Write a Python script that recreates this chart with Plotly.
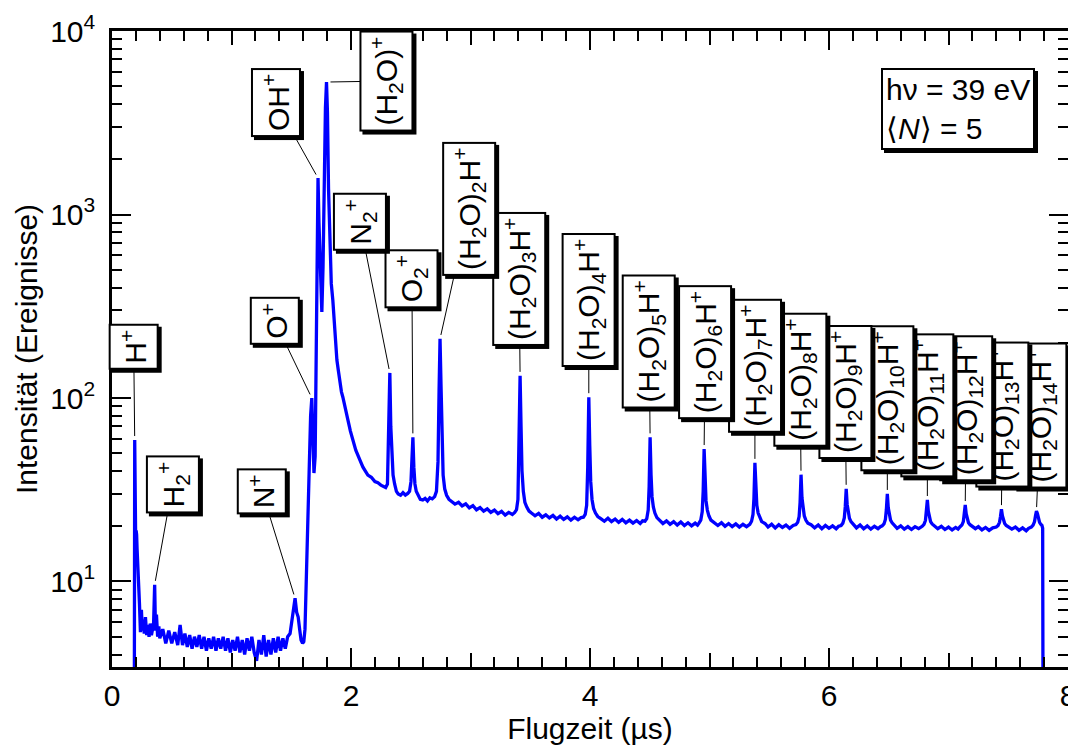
import math
import plotly.graph_objects as go

# ---------------- data (time of flight in µs, counts) ----------------
low_mass = [
    (0.170, 1), (0.186, 1), (0.190, 59), (0.194, 22), (0.198, 17), (0.202, 19), (0.206, 18),
    (0.210, 15), (0.214, 13.4), (0.218, 11), (0.224, 10.6), (0.230, 7.5), (0.238, 5.3),
    (0.246, 7.0), (0.254, 5.4), (0.262, 6.2), (0.270, 5.2), (0.280, 6.4), (0.290, 5.1),
    (0.300, 5.8), (0.310, 5.0), (0.320, 5.9), (0.330, 5.1), (0.340, 5.7), (0.348, 5.9),
    (0.357, 9.6), (0.364, 5.4), (0.372, 6.6), (0.382, 5.0), (0.392, 5.7), (0.400, 4.9),
    (0.425, 5.5), (0.450, 4.6), (0.475, 5.4), (0.500, 4.6), (0.525, 5.3), (0.550, 4.5),
    (0.570, 5.8), (0.590, 4.5), (0.610, 5.2), (0.630, 4.4), (0.650, 5.1), (0.670, 4.3),
    (0.690, 5.0), (0.710, 4.4), (0.730, 5.1), (0.750, 4.3), (0.770, 5.0), (0.790, 4.2),
    (0.810, 4.9), (0.830, 4.3), (0.850, 5.0), (0.870, 4.2), (0.890, 4.9), (0.910, 4.3),
    (0.930, 5.0), (0.950, 4.2), (0.970, 4.9), (0.990, 4.1), (1.010, 4.8), (1.030, 4.2),
    (1.050, 5.0), (1.070, 4.1), (1.090, 4.8), (1.110, 4.0), (1.130, 4.9), (1.150, 4.2),
    (1.170, 5.0), (1.190, 4.1), (1.210, 3.7), (1.230, 4.8), (1.250, 4.0), (1.270, 5.1),
    (1.290, 3.9), (1.310, 4.8), (1.330, 4.0), (1.350, 4.9), (1.370, 4.1), (1.390, 5.0),
    (1.410, 4.2), (1.430, 4.9), (1.450, 4.3), (1.470, 5.0), (1.490, 5.2), (1.505, 6.0),
    (1.520, 7.2), (1.532, 8.1), (1.545, 6.8), (1.558, 6.4), (1.570, 5.5), (1.582, 4.8),
    (1.595, 4.6), (1.605, 4.7),
]

monomer_region = [
    (1.615, 5.5), (1.628, 12), (1.640, 25), (1.652, 48), (1.662, 80), (1.672, 100),
    (1.680, 60), (1.690, 39), (1.700, 48), (1.710, 300), (1.718, 1000), (1.724, 1580),
    (1.732, 900), (1.745, 420), (1.756, 294), (1.766, 520), (1.776, 1600), (1.786, 3800),
    (1.795, 5270), (1.803, 3600), (1.812, 1380), (1.822, 700), (1.835, 420), (1.848, 340),
    (1.865, 220), (1.882, 161), (1.895, 140), (1.907, 122), (1.920, 108), (1.932, 101),
    (1.950, 88), (1.974, 76), (1.995, 66), (2.015, 59), (2.040, 52), (2.074, 46),
    (2.100, 42), (2.141, 38), (2.170, 37), (2.200, 35), (2.225, 34.5), (2.250, 33.5),
    (2.270, 33), (2.290, 32.5), (2.305, 34), (2.315, 60), (2.325, 137), (2.333, 70),
    (2.342, 45), (2.352, 38), (2.365, 34), (2.380, 31), (2.395, 30), (2.415, 29.5),
    (2.435, 30.5), (2.455, 29.6), (2.475, 30.2), (2.490, 31), (2.502, 35), (2.510, 45),
    (2.518, 61), (2.526, 42), (2.535, 34), (2.546, 31), (2.560, 29.5), (2.580, 28),
    (2.600, 27.8), (2.620, 28.4), (2.640, 27.5), (2.660, 28.6), (2.680, 28.2), (2.700, 29),
    (2.715, 31), (2.728, 45), (2.737, 110), (2.745, 210), (2.753, 120), (2.761, 55),
    (2.771, 38), (2.784, 32), (2.800, 29.5), (2.820, 28),
]

cluster_region = [
    (2.845, 27.2), (2.870, 26.4), (2.900, 27.0), (2.930, 25.8), (2.960, 26.5), (2.990, 25.2),
    (3.020, 25.9), (3.050, 24.6), (3.080, 25.3), (3.110, 24.2), (3.140, 24.9), (3.170, 23.8),
    (3.200, 24.5), (3.230, 23.4), (3.260, 24.1), (3.290, 23.0), (3.320, 23.8), (3.350, 23.2),
    (3.370, 23.8), (3.385, 24.6), (3.397, 28), (3.406, 50), (3.415, 132), (3.423, 70),
    (3.431, 40), (3.442, 31), (3.455, 27), (3.470, 25.5), (3.490, 24.2),
    (3.510, 23.6), (3.540, 22.8), (3.570, 23.5), (3.600, 22.4), (3.630, 23.1), (3.660, 22.2),
    (3.690, 22.9), (3.720, 21.9), (3.750, 22.7), (3.780, 21.8), (3.810, 22.5), (3.840, 21.6),
    (3.870, 22.4), (3.900, 21.7), (3.925, 22.3),
    (3.945, 22.4), (3.960, 23.2), (3.972, 26), (3.981, 42), (3.990, 101), (3.998, 55),
    (4.006, 35), (4.017, 28), (4.030, 25), (4.046, 23.6), (4.065, 22.6),
    (4.090, 22.0), (4.120, 21.3), (4.150, 22.1), (4.180, 21.2), (4.210, 21.9), (4.240, 21.0),
    (4.270, 21.8), (4.300, 20.9), (4.330, 21.6), (4.360, 20.8), (4.390, 21.5), (4.420, 20.7),
    (4.440, 21.4),
    (4.460, 21.3), (4.475, 22), (4.487, 24.5), (4.495, 33), (4.503, 61), (4.511, 38),
    (4.519, 29), (4.530, 25.5), (4.543, 23.6), (4.560, 22.3),
    (4.585, 21.6), (4.610, 20.7), (4.640, 21.4), (4.670, 20.5), (4.700, 21.2), (4.730, 20.3),
    (4.760, 21.1), (4.790, 20.2), (4.820, 20.9), (4.850, 20.1), (4.880, 20.8), (4.900, 20.3),
    (4.912, 20.8), (4.927, 21.6), (4.939, 24), (4.947, 31), (4.955, 52.7), (4.963, 35),
    (4.971, 27.5), (4.982, 24.5), (4.995, 22.8), (5.012, 21.6),
    (5.040, 21.0), (5.070, 20.2), (5.100, 20.9), (5.130, 20.0), (5.160, 20.7), (5.190, 19.9),
    (5.220, 20.6), (5.250, 19.8), (5.280, 20.5), (5.310, 19.9),
    (5.337, 20.5), (5.352, 21.3), (5.364, 23.2), (5.372, 28.5), (5.380, 44.3), (5.388, 31),
    (5.396, 26), (5.407, 23.6), (5.420, 22.2), (5.437, 21.2),
    (5.465, 20.7), (5.490, 19.8), (5.520, 20.5), (5.550, 19.6), (5.580, 20.4), (5.610, 19.7),
    (5.640, 20.3), (5.670, 19.5), (5.700, 20.2),
    (5.723, 20.4), (5.738, 21.0), (5.750, 22.6), (5.758, 27), (5.766, 38.2), (5.774, 28.5),
    (5.782, 24.8), (5.793, 22.8), (5.806, 21.6), (5.823, 20.8),
    (5.850, 20.4), (5.880, 19.6), (5.910, 20.3), (5.940, 19.4), (5.970, 20.2), (6.000, 19.5),
    (6.030, 20.1), (6.060, 19.4), (6.080, 20.0),
    (6.101, 20.2), (6.116, 20.8), (6.128, 22.2), (6.136, 25.5), (6.144, 32), (6.152, 26.3),
    (6.160, 23.6), (6.171, 22.1), (6.184, 21.2), (6.201, 20.5),
    (6.230, 19.6), (6.260, 20.3), (6.290, 19.4), (6.320, 20.1), (6.350, 19.3), (6.380, 20.0),
    (6.410, 19.4), (6.430, 19.9),
    (6.445, 20.1), (6.460, 20.6), (6.472, 21.8), (6.480, 24.6), (6.488, 30), (6.496, 25.2),
    (6.504, 22.9), (6.515, 21.6), (6.528, 20.9), (6.545, 20.3),
    (6.570, 19.5), (6.600, 20.1), (6.630, 19.3), (6.660, 19.9), (6.690, 19.2), (6.720, 19.9),
    (6.750, 19.4),
    (6.780, 20.0), (6.795, 20.5), (6.807, 21.5), (6.815, 23.8), (6.823, 27.8), (6.831, 24.2),
    (6.839, 22.3), (6.850, 21.2), (6.863, 20.6), (6.880, 20.1),
    (6.910, 19.4), (6.940, 20.0), (6.970, 19.2), (7.000, 19.8), (7.030, 19.1), (7.060, 19.7),
    (7.080, 19.3),
    (7.097, 19.9), (7.112, 20.3), (7.124, 21.2), (7.132, 23.2), (7.140, 26.1), (7.148, 23.4),
    (7.156, 21.9), (7.167, 20.9), (7.180, 20.4), (7.197, 20.0),
    (7.225, 19.4), (7.250, 19.9), (7.280, 19.1), (7.310, 19.7), (7.340, 19.0), (7.370, 19.6),
    (7.400, 19.8), (7.415, 20.2), (7.427, 21.0), (7.435, 22.6), (7.443, 24.8), (7.451, 22.8),
    (7.459, 21.5), (7.470, 20.7), (7.483, 20.2), (7.500, 19.8),
    (7.530, 19.3), (7.560, 19.8), (7.590, 19.0), (7.620, 19.6), (7.650, 18.9), (7.670, 19.5),
    (7.693, 19.8), (7.708, 20.3), (7.720, 21.2), (7.728, 22.8), (7.736, 24.2), (7.744, 23.5),
    (7.752, 22.0), (7.762, 21.0), (7.772, 20.5), (7.782, 20.2), (7.788, 19.5), (7.792, 1),
]

tof_us = [p[0] for seg in (low_mass, monomer_region, cluster_region) for p in seg]
counts = [p[1] for seg in (low_mass, monomer_region, cluster_region) for p in seg]

# peak labels
label_text = [
    "H<sup>+</sup>",
    "H<sub>2</sub><sup>+</sup>",
    "N<sup>+</sup>",
    "O<sup>+</sup>",
    "OH<sup>+</sup>",
    "(H<sub>2</sub>O)<sup>+</sup>",
    "N<sub>2</sub><sup>+</sup>",
    "O<sub>2</sub><sup>+</sup>",
] + ["(H<sub>2</sub>O)<sub>%d</sub>H<sup>+</sup>" % n for n in range(2, 15)]
label_x = [0.190, 0.357, 1.532, 1.672, 1.724, 1.795, 2.325, 2.518, 2.745, 3.415, 3.990,
           4.503, 4.955, 5.380, 5.766, 6.144, 6.488, 6.823, 7.140, 7.443, 7.736]
label_y = [59, 9.6, 8.1, 100, 1580, 5270, 137, 61, 210, 132, 101,
           61, 52.7, 44.3, 38.2, 32, 30, 27.8, 26.1, 24.8, 24.2]

# label box offsets (pixels, layout only)
label_ax = [-1, 18, -33, -37, -42, 60, -30, -1, 29, -1, 0, -1, 1, 0, -1, -1, 0, 0, 1, 1, 4]
label_ay = [-93, -100, -107, -77, -75, -1, -151, -159, -130, -97, -97, -96, -97, -97, -95,
            -97, -96, -95, -97, -95, -96]

x_major_ticks = [0, 2, 4, 6, 8]
x_major_text = ["0", "2", "4", "6", "8"]
x_mid_ticks = [1, 3, 5, 7]
y_major_ticks = [10, 100, 1000, 10000]
y_major_text = ["10<sup>1</sup>", "10<sup>2</sup>", "10<sup>3</sup>", "10<sup>4</sup>"]
y_minor_ticks = [4, 5, 6, 7, 8, 9, 20, 30, 40, 50, 60, 70, 80, 90,
                 200, 300, 400, 500, 600, 700, 800, 900,
                 2000, 3000, 4000, 5000, 6000, 7000, 8000, 9000]

FONT = "Liberation Sans, Arial, Helvetica, sans-serif"

fig = go.Figure()
fig.add_trace(go.Scatter(x=tof_us, y=counts, mode="lines",
                         line=dict(color="#0000ff", width=3.3), showlegend=False,
                         hoverinfo="skip"))
fig.add_trace(go.Scatter(x=[None], y=[None], xaxis="x2", yaxis="y", mode="lines",
                         showlegend=False, hoverinfo="skip"))

axis_common = dict(showgrid=False, zeroline=False, showline=True, linewidth=2.5,
                   linecolor="black", ticks="inside", tickwidth=2, tickcolor="black",
                   mirror="ticks", automargin=False)

# the page body has an 8 px default margin, so the figure is 16 px smaller
fig.update_layout(
    width=1068, height=741,
    margin=dict(l=104, r=8, t=23, b=82),
    plot_bgcolor="white", paper_bgcolor="white",
    font=dict(family=FONT, color="black", size=30),
    showlegend=False,
    xaxis=dict(range=[0, 8], tickvals=x_major_ticks, ticktext=x_major_text, ticklen=19,
               tickfont=dict(size=30), ticklabeloverflow="allow",
               minor=dict(tick0=0, dtick=0.2, ticks="inside", ticklen=10, tickwidth=2,
                          tickcolor="black", showgrid=False),
               title=dict(text="Flugzeit (µs)", font=dict(size=30), standoff=8),
               **axis_common),
    xaxis2=dict(range=[0, 8], overlaying="x", anchor="y", side="bottom",
                tickvals=x_mid_ticks, ticklen=14, showticklabels=False, **axis_common),
    yaxis=dict(type="log", range=[math.log10(3.42), 4], tickvals=y_major_ticks,
               ticktext=y_major_text, ticklen=19, tickfont=dict(size=30),
               ticklabelstandoff=8, ticklabeloverflow="allow",
               minor=dict(tickvals=y_minor_ticks, ticks="inside", ticklen=10, tickwidth=2,
                          tickcolor="black", showgrid=False),
               title=dict(text="Intensität (Ereignisse)", font=dict(size=30), standoff=4),
               **axis_common),
)

annotations = []
for i in reversed(range(len(label_text))):
    base = dict(x=label_x[i], y=math.log10(label_y[i]), xref="x", yref="y",
                text=label_text[i], textangle=-90, showarrow=True, arrowhead=0,
                arrowwidth=1, ax=label_ax[i], ay=label_ay[i], standoff=4,
                borderwidth=2, borderpad=4, bordercolor="black",
                font=dict(size=30, color="black", family=FONT))
    shadow = dict(base, bgcolor="black", arrowcolor="rgba(0,0,0,0)", xshift=3, yshift=-3)
    box = dict(base, bgcolor="white", arrowcolor="black")
    annotations += [shadow, box]

info_text = "hν = 39 eV<br>⟨<i>N</i>⟩ = 5"
info = dict(x=0.885, y=0.877, xref="paper", yref="paper", text=info_text, showarrow=False,
            align="left", xanchor="center", yanchor="middle", borderwidth=2, borderpad=3,
            bordercolor="black", font=dict(size=30, color="black", family=FONT))
annotations.append(dict(info, bgcolor="black", xshift=3, yshift=-3))
annotations.append(dict(info, bgcolor="white"))

fig.update_layout(annotations=annotations)
fig.write_html("out.html")
